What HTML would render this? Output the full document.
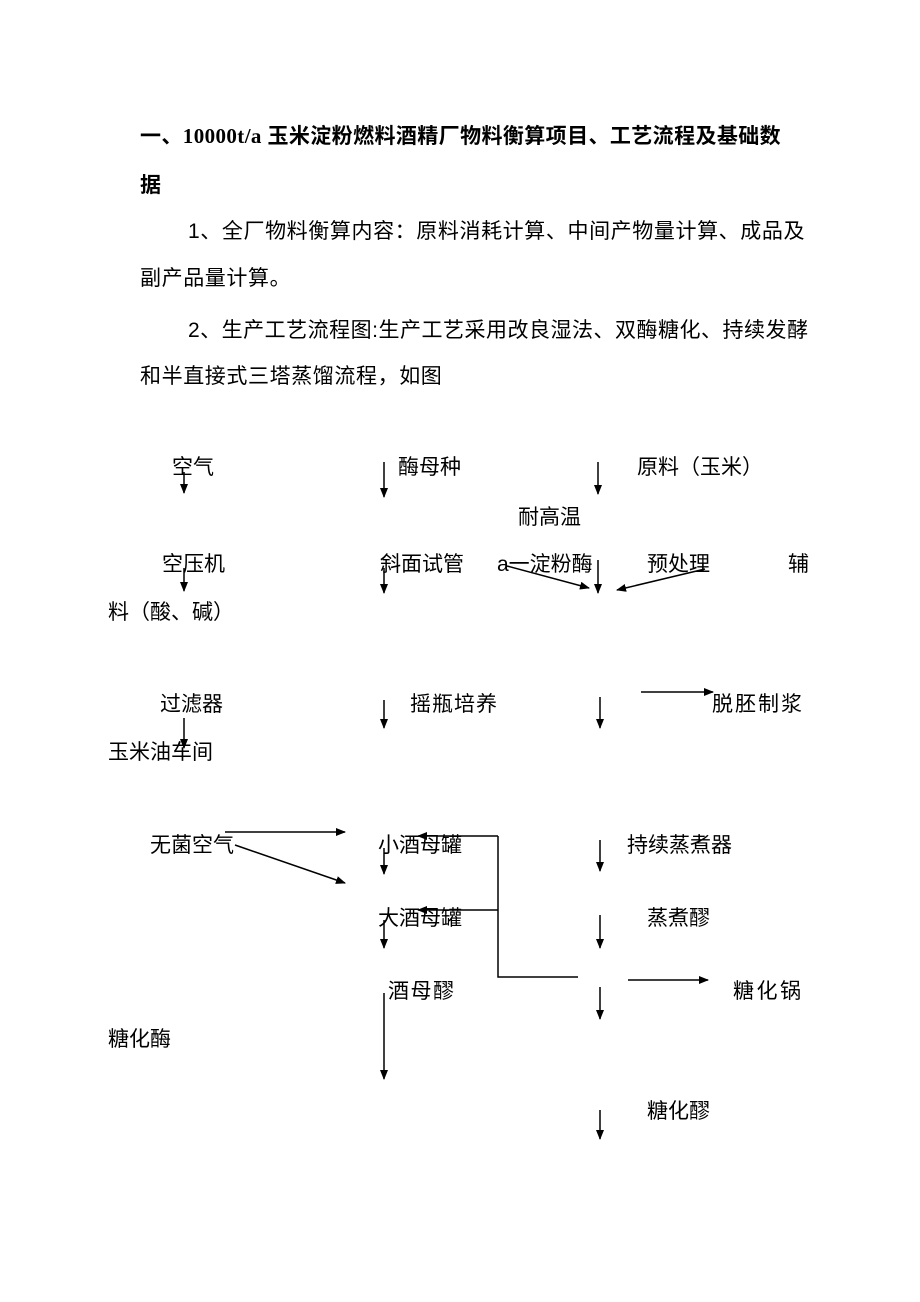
<!DOCTYPE html>
<html><head><meta charset="utf-8"><style>
html,body{margin:0;padding:0;background:#fff}
#p{position:relative;width:920px;height:1302px;overflow:hidden;font-family:"Liberation Sans","Noto Sans CJK SC",sans-serif;color:#000}
.t{position:absolute;white-space:nowrap;font-size:21px;line-height:24px}
.b{font-weight:bold;font-family:"Liberation Serif","Noto Sans CJK SC",sans-serif}
.p{font-size:21px;letter-spacing:0.6px}
svg{position:absolute;left:0;top:0}
</style></head><body><div id="p">
<div class="t b p" style="left:140px;top:124px;letter-spacing:0.4px">一、10000t/a 玉米淀粉燃料酒精厂物料衡算项目、工艺流程及基础数</div>
<div class="t b p" style="left:140px;top:173px">据</div>
<div class="t p" style="left:188px;top:220px">1、全厂物料衡算内容：原料消耗计算、中间产物量计算、成品及</div>
<div class="t p" style="left:140px;top:267px">副产品量计算。</div>
<div class="t p" style="left:188px;top:319px;letter-spacing:0.5px">2、生产工艺流程图:生产工艺采用改良湿法、双酶糖化、持续发酵</div>
<div class="t p" style="left:140px;top:365px">和半直接式三塔蒸馏流程，如图</div>

<div class="t" style="left:172px;top:456px">空气</div>
<div class="t" style="left:398px;top:456px">酶母种</div>
<div class="t" style="left:637px;top:456px">原料（玉米）</div>
<div class="t" style="left:518px;top:506px">耐高温</div>
<div class="t" style="left:162px;top:553px">空压机</div>
<div class="t" style="left:380px;top:553px">斜面试管</div>
<div class="t" style="left:497px;top:553px">a一淀粉酶</div>
<div class="t" style="left:647px;top:553px">预处理</div>
<div class="t" style="left:788px;top:553px">辅</div>
<div class="t" style="left:108px;top:601px">料（酸、碱）</div>
<div class="t" style="left:160px;top:693px">过滤器</div>
<div class="t" style="left:410px;top:693px;letter-spacing:1px">摇瓶培养</div>
<div class="t" style="left:712px;top:693px;letter-spacing:2px">脱胚制浆</div>
<div class="t" style="left:108px;top:741px">玉米油车间</div>
<div class="t" style="left:150px;top:834px">无菌空气</div>
<div class="t" style="left:378px;top:834px">小酒母罐</div>
<div class="t" style="left:627px;top:834px">持续蒸煮器</div>
<div class="t" style="left:378px;top:907px">大酒母罐</div>
<div class="t" style="left:647px;top:907px">蒸煮醪</div>
<div class="t" style="left:388px;top:980px;letter-spacing:1.5px">酒母醪</div>
<div class="t" style="left:733px;top:980px;letter-spacing:2.5px">糖化锅</div>
<div class="t" style="left:108px;top:1028px">糖化酶</div>
<div class="t" style="left:647px;top:1100px">糖化醪</div>

<svg width="920" height="1302" viewBox="0 0 920 1302">
<defs><marker id="a" markerWidth="10" markerHeight="8" refX="9" refY="4" orient="auto" markerUnits="userSpaceOnUse"><path d="M0,0L10,4L0,8z" fill="#000"/></marker></defs>
<g stroke="#000" stroke-width="1.5" fill="none" marker-end="url(#a)">
<line x1="184" y1="472" x2="184" y2="493"/>
<line x1="384" y1="462" x2="384" y2="497"/>
<line x1="598" y1="462" x2="598" y2="494"/>
<line x1="184" y1="568" x2="184" y2="591"/>
<line x1="384" y1="568" x2="384" y2="593"/>
<line x1="598" y1="560" x2="598" y2="593"/>
<line x1="507" y1="566" x2="589" y2="588"/>
<line x1="705" y1="569" x2="617" y2="590"/>
<line x1="384" y1="700" x2="384" y2="728"/>
<line x1="600" y1="697" x2="600" y2="728"/>
<line x1="641" y1="692" x2="713" y2="692"/>
<line x1="184" y1="718" x2="184" y2="748"/>
<line x1="225" y1="832" x2="345" y2="832"/>
<line x1="235" y1="845" x2="345" y2="883"/>
<line x1="498" y1="836" x2="418" y2="836"/>
<line x1="498" y1="910" x2="418" y2="910"/>
<line x1="384" y1="848" x2="384" y2="874"/>
<line x1="384" y1="920" x2="384" y2="948"/>
<line x1="384" y1="993" x2="384" y2="1079"/>
<line x1="600" y1="840" x2="600" y2="871"/>
<line x1="600" y1="915" x2="600" y2="948"/>
<line x1="600" y1="987" x2="600" y2="1019"/>
<line x1="600" y1="1110" x2="600" y2="1139"/>
<line x1="628" y1="980" x2="708" y2="980"/>
</g>
<polyline points="498,836 498,977 578,977" stroke="#000" stroke-width="1.5" fill="none"/>
</svg>
</div></body></html>
